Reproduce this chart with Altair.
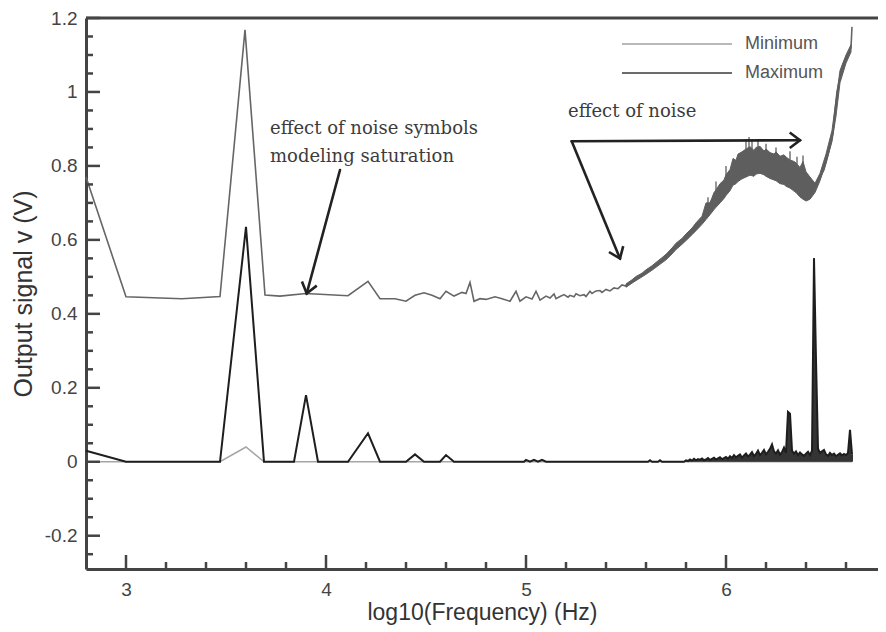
import math
import altair as alt
import pandas as pd

# ---------------- data ----------------
# upper curve (noise-symbol bound), medium grey
upper_x = [2.80, 3.00, 3.28, 3.47, 3.595, 3.695, 3.77, 3.90, 4.11, 4.21, 4.27, 4.345, 4.40,
           4.445, 4.49, 4.53, 4.57, 4.60, 4.64, 4.68, 4.70, 4.72, 4.74, 4.77, 4.80, 4.845,
           4.88, 4.92, 4.95, 4.97, 5.00, 5.03, 5.05, 5.07, 5.10, 5.12, 5.14, 5.15, 5.17,
           5.19, 5.21, 5.22, 5.24, 5.25, 5.27, 5.29, 5.30, 5.32, 5.33, 5.35, 5.37, 5.38,
           5.40, 5.42, 5.44, 5.46, 5.48, 5.50, 5.52, 5.54, 5.56, 5.58, 5.60, 5.62, 5.64,
           5.66, 5.68, 5.70, 5.72, 5.74, 5.76, 5.78, 5.80, 5.82, 5.84, 5.86, 5.88, 5.92,
           5.97, 6.035, 6.08, 6.12, 6.17, 6.22, 6.27, 6.32, 6.37, 6.395, 6.42, 6.445, 6.47,
           6.49, 6.51, 6.535, 6.545, 6.555, 6.57, 6.585, 6.60, 6.615, 6.625, 6.63]
upper_y = [0.770, 0.446, 0.441, 0.447, 1.168, 0.451, 0.448, 0.455, 0.449, 0.488, 0.441, 0.441, 0.434,
           0.450, 0.457, 0.450, 0.441, 0.461, 0.448, 0.458, 0.455, 0.485, 0.434, 0.441, 0.439, 0.446,
           0.441, 0.434, 0.461, 0.434, 0.446, 0.440, 0.461, 0.437, 0.448, 0.443, 0.454, 0.441, 0.447,
           0.452, 0.445, 0.450, 0.446, 0.454, 0.449, 0.452, 0.447, 0.461, 0.455, 0.462, 0.463, 0.458,
           0.466, 0.462, 0.470, 0.468, 0.478, 0.475, 0.486, 0.489, 0.498, 0.503, 0.512, 0.518, 0.528,
           0.534, 0.546, 0.552, 0.565, 0.572, 0.585, 0.594, 0.606, 0.615, 0.628, 0.640, 0.655, 0.700,
           0.735, 0.785, 0.800, 0.810, 0.815, 0.800, 0.790, 0.780, 0.760, 0.745, 0.740, 0.740, 0.770,
           0.790, 0.830, 0.890, 0.950, 1.000, 1.040, 1.075, 1.090, 1.105, 1.120, 1.176]

# noisy band of the upper curve (lower / upper envelope)
band_x = [5.50, 5.53, 5.55, 5.58, 5.60, 5.63, 5.65, 5.68, 5.70, 5.73, 5.75, 5.78, 5.80, 5.83,
          5.85, 5.88, 5.90, 5.92, 5.94, 5.95, 5.97, 5.99, 6.00, 6.02, 6.035, 6.05, 6.06, 6.08,
          6.10, 6.12, 6.14, 6.15, 6.17, 6.19, 6.20, 6.22, 6.24, 6.25, 6.27, 6.29, 6.30, 6.32,
          6.34, 6.35, 6.37, 6.385, 6.40, 6.42, 6.445, 6.47, 6.50, 6.53, 6.55, 6.57, 6.60, 6.625]
band_lo = [0.472, 0.483, 0.490, 0.500, 0.507, 0.518, 0.526, 0.538, 0.546, 0.562, 0.574, 0.588, 0.598, 0.614,
           0.625, 0.642, 0.655, 0.668, 0.682, 0.688, 0.700, 0.712, 0.720, 0.733, 0.748, 0.752, 0.758, 0.765,
           0.770, 0.775, 0.772, 0.778, 0.780, 0.776, 0.772, 0.766, 0.762, 0.760, 0.752, 0.750, 0.745, 0.740,
           0.732, 0.728, 0.716, 0.710, 0.705, 0.710, 0.728, 0.760, 0.808, 0.866, 0.935, 1.025, 1.078, 1.108]
band_hi = [0.481, 0.492, 0.501, 0.510, 0.519, 0.530, 0.539, 0.552, 0.561, 0.578, 0.591, 0.604, 0.616, 0.632,
           0.646, 0.664, 0.700, 0.700, 0.728, 0.735, 0.752, 0.762, 0.776, 0.790, 0.820, 0.815, 0.832, 0.838,
           0.846, 0.852, 0.842, 0.850, 0.853, 0.840, 0.846, 0.836, 0.832, 0.838, 0.826, 0.830, 0.824, 0.816,
           0.812, 0.808, 0.796, 0.812, 0.784, 0.770, 0.753, 0.780, 0.832, 0.896, 0.978, 1.058, 1.100, 1.128]

# thin spikes sticking out of the band
spike_x = [5.91, 5.95, 6.00, 6.10, 6.115, 6.13, 6.16, 6.20, 6.25, 6.32, 6.355, 6.385]
spike_lo = [0.690, 0.730, 0.770, 0.840, 0.845, 0.845, 0.848, 0.842, 0.832, 0.815, 0.805, 0.800]
spike_hi = [0.715, 0.758, 0.800, 0.872, 0.878, 0.872, 0.868, 0.860, 0.850, 0.840, 0.825, 0.828]

# "Maximum" (black) curve
max_x = [2.80, 3.00, 3.47, 3.60, 3.69, 3.84, 3.90, 3.96, 4.11, 4.21, 4.27, 4.40, 4.445, 4.49,
         4.57, 4.60, 4.64, 4.99, 5.00, 5.02, 5.04, 5.06, 5.08, 5.10, 5.61, 5.62, 5.63, 5.66,
         5.67, 5.68, 5.79]
max_y = [0.030, 0.000, 0.000, 0.635, 0.000, 0.000, 0.180, 0.000, 0.000, 0.077, 0.000, 0.000, 0.020, 0.000,
         0.000, 0.018, 0.000, 0.000, 0.005, 0.000, 0.005, 0.000, 0.005, 0.000, 0.000, 0.004, 0.000, 0.000,
         0.004, 0.000, 0.000]
noise_x = [5.80, 5.81, 5.82, 5.83, 5.84, 5.85, 5.86, 5.87, 5.88, 5.89,
           5.90, 5.91, 5.92, 5.93, 5.94, 5.95, 5.96, 5.97, 5.98, 5.99,
           6.00, 6.01, 6.02, 6.03, 6.04, 6.05, 6.06, 6.07, 6.08, 6.09,
           6.10, 6.11, 6.12, 6.13, 6.14, 6.15, 6.16, 6.17, 6.18, 6.19,
           6.20, 6.21, 6.22, 6.23, 6.24, 6.25, 6.26, 6.27, 6.28, 6.29,
           6.30, 6.31, 6.32, 6.33, 6.34, 6.35, 6.36, 6.37, 6.38, 6.39,
           6.40, 6.41, 6.42, 6.43, 6.44, 6.45, 6.46, 6.47, 6.48, 6.49,
           6.50, 6.51, 6.52, 6.53, 6.54, 6.55, 6.56, 6.57, 6.58, 6.59,
           6.60, 6.61, 6.62, 6.63]
noise_h = [0.004, 0.002, 0.006, 0.003, 0.008, 0.004, 0.007, 0.005, 0.009, 0.004,
           0.006, 0.010, 0.005, 0.008, 0.011, 0.006, 0.009, 0.012, 0.007, 0.010,
           0.013, 0.008, 0.015, 0.010, 0.018, 0.012, 0.016, 0.020, 0.011, 0.017,
           0.022, 0.014, 0.019, 0.026, 0.015, 0.021, 0.030, 0.018, 0.024, 0.032,
           0.020, 0.027, 0.035, 0.047, 0.028, 0.022, 0.031, 0.019, 0.026, 0.038,
           0.024, 0.135, 0.130, 0.030, 0.022, 0.028, 0.018, 0.025, 0.020, 0.016,
           0.022, 0.027, 0.018, 0.030, 0.550, 0.275, 0.035, 0.024, 0.028, 0.032,
           0.020, 0.016, 0.024, 0.018, 0.022, 0.015, 0.019, 0.023, 0.017, 0.021,
           0.018, 0.024, 0.086, 0.020]

# "Minimum" (light grey) curve
min_x = [2.80, 3.47, 3.60, 3.69, 6.63]
min_y = [0.000, 0.000, 0.040, 0.000, 0.000]

legend_labels = ["Minimum", "Maximum"]

# axis ticks
x_major = [3, 4, 5, 6]
x_minor = [3.2, 3.4, 3.6, 3.8, 4.2, 4.4, 4.6, 4.8, 5.2, 5.4, 5.6, 5.8, 6.2, 6.4, 6.6]
y_major = [-0.2, 0, 0.2, 0.4, 0.6, 0.8, 1, 1.2]
y_minor = [-0.25, -0.15, -0.1, -0.05, 0.05, 0.1, 0.15, 0.25, 0.3, 0.35, 0.45, 0.5, 0.55,
           0.65, 0.7, 0.75, 0.85, 0.9, 0.95, 1.05, 1.1, 1.15]

# annotations
notes_text = ["effect of noise symbols", "modeling saturation", "effect of noise"]
notes_x = [3.72, 3.72, 5.21]
notes_y = [0.887, 0.811, 0.932]
arrow_x = [4.07, 5.2285, 5.2285]
arrow_y = [0.789, 0.8667, 0.8667]
arrow_x2 = [3.9035, 5.47, 6.37]
arrow_y2 = [0.455, 0.5495, 0.8695]

# ---------------- layout ----------------
X_DOM = [2.8, 6.76]
Y_DOM = [-0.29, 1.2]
W, H = 792, 551
PX_X = W / (X_DOM[1] - X_DOM[0])
PX_Y = H / (Y_DOM[1] - Y_DOM[0])

SANS = "Liberation Sans"
SERIF = "DejaVu Serif"
AX = "#444444"

x_axis = alt.Axis(values=x_major, labelExpr="'' + datum.value", ticks=False, tickSize=0,
                  grid=False, domainColor=AX, domainWidth=3, labelFont=SANS, labelFontSize=19,
                  labelColor=AX, labelPadding=11, title="log10(Frequency) (Hz)",
                  titleFont=SANS, titleFontSize=23, titleFontWeight="normal",
                  titleColor="#333333", titlePadding=2)
y_axis = alt.Axis(values=y_major, labelExpr="'' + datum.value", ticks=False, tickSize=0,
                  grid=False, domainColor=AX, domainWidth=3, labelFont=SANS, labelFontSize=19,
                  labelColor=AX, labelPadding=9, title="Output signal v (V)",
                  titleFont=SANS, titleFontSize=25, titleFontWeight="normal",
                  titleColor="#333333", titlePadding=8)


def X(field="x"):
    return alt.X(f"{field}:Q", scale=alt.Scale(domain=X_DOM, nice=False, zero=False), axis=x_axis)


def Y(field="y"):
    return alt.Y(f"{field}:Q", scale=alt.Scale(domain=Y_DOM, nice=False, zero=False), axis=y_axis)


upper_df = pd.DataFrame({"x": upper_x, "y": upper_y})
band_df = pd.DataFrame({"x": band_x, "y": band_lo, "y2": band_hi})
spike_df = pd.DataFrame({"x": spike_x, "y": spike_lo, "y2": spike_hi})
max_df = pd.DataFrame({"x": max_x + noise_x, "y": max_y + noise_h})
noise_df = pd.DataFrame({"x": noise_x, "y": [0.0] * len(noise_x), "y2": noise_h})
min_df = pd.DataFrame({"x": min_x, "y": min_y})

upper = alt.Chart(upper_df).mark_line(color="#666666", strokeWidth=1.6).encode(x=X(), y=Y())
band = alt.Chart(band_df).mark_area(color="#5e5e5e", opacity=1, stroke="#5e5e5e",
                                    strokeWidth=1).encode(x=X(), y=Y(), y2="y2:Q")
spikes = alt.Chart(spike_df).mark_rule(color="#5e5e5e", strokeWidth=1.3).encode(x=X(), y=Y(), y2="y2:Q")
minimum = alt.Chart(min_df).mark_line(color="#a6a6a6", strokeWidth=1.6).encode(x=X(), y=Y())
maximum = alt.Chart(max_df).mark_line(color="#1e1e1e", strokeWidth=2).encode(x=X(), y=Y())
noise = alt.Chart(noise_df).mark_rule(color="#1e1e1e", strokeWidth=1.8).encode(x=X(), y=Y(), y2="y2:Q")

# axis ticks drawn inward
ytick_major = alt.Chart(pd.DataFrame({"y": y_major})).mark_rule(color=AX, strokeWidth=2.5).encode(
    y=Y(), x=alt.value(0), x2=alt.value(14))
ytick_minor = alt.Chart(pd.DataFrame({"y": y_minor})).mark_rule(color=AX, strokeWidth=2.5).encode(
    y=Y(), x=alt.value(0), x2=alt.value(7))
xtick_major = alt.Chart(pd.DataFrame({"x": x_major})).mark_rule(color=AX, strokeWidth=2.5).encode(
    x=X(), y=alt.value(H), y2=alt.value(H - 14))
xtick_minor = alt.Chart(pd.DataFrame({"x": x_minor})).mark_rule(color=AX, strokeWidth=2.5).encode(
    x=X(), y=alt.value(H), y2=alt.value(H - 7))
top_line = alt.Chart(pd.DataFrame({"x": [X_DOM[0]]})).mark_rule(color=AX, strokeWidth=3).encode(
    x=alt.value(0), x2=alt.value(W), y=alt.value(0))

# annotations
notes_df = pd.DataFrame({"x": notes_x, "y": notes_y, "t": notes_text})
notes = alt.Chart(notes_df).mark_text(font=SERIF, fontSize=18, color="#3c3c3c", align="left",
                                      baseline="alphabetic").encode(x=X(), y=Y(), text="t:N")
arrow_df = pd.DataFrame({"x": arrow_x, "y": arrow_y, "x2": arrow_x2, "y2": arrow_y2})
arrow_df["angle"] = [
    (math.degrees(math.atan2((a - b) * PX_Y, (d - c) * PX_X)) + 360) % 360
    for a, b, c, d in zip(arrow_y, arrow_y2, arrow_x, arrow_x2)
]
arrows = alt.Chart(arrow_df).mark_rule(color="#222222", strokeWidth=2.6, strokeCap="round").encode(
    x=X(), y=Y(), x2="x2:Q", y2="y2:Q")
heads = alt.Chart(arrow_df).mark_point(shape="M-1,-0.75L0,0L-1,0.75", filled=False, size=420,
                                       strokeWidth=2.6, color="#222222", opacity=1).encode(
    x=X("x2"), y=Y("y2"), angle=alt.Angle("angle:Q", scale=None))

# legend (manual, top right)
legend_layers = []
legend_colors = ["#a0a0a0", "#3a3a3a"]
for i, (lab, col) in enumerate(zip(legend_labels, legend_colors)):
    ly = 26 + 29 * i
    ldf = pd.DataFrame({"label": [lab]})
    legend_layers.append(
        alt.Chart(ldf).mark_rule(color=col, strokeWidth=1.4).encode(
            x=alt.value(536), x2=alt.value(646), y=alt.value(ly)))
    legend_layers.append(
        alt.Chart(ldf).mark_text(font=SANS, fontSize=18, color="#555555", align="left",
                                 baseline="middle").encode(
            x=alt.value(659), y=alt.value(ly), text="label:N"))

chart = alt.layer(
    minimum, upper, band, spikes, maximum, noise,
    ytick_major, ytick_minor, xtick_major, xtick_minor, top_line,
    arrows, heads, notes, *legend_layers
).properties(
    width=W, height=H,
    padding={"left": 78, "top": 10, "right": 0, "bottom": 56},
    autosize=alt.AutoSizeParams(type="none"),
).configure_view(stroke=None).configure(background="white")

chart.save("out.html", embed_options={"renderer": "svg", "actions": False})
